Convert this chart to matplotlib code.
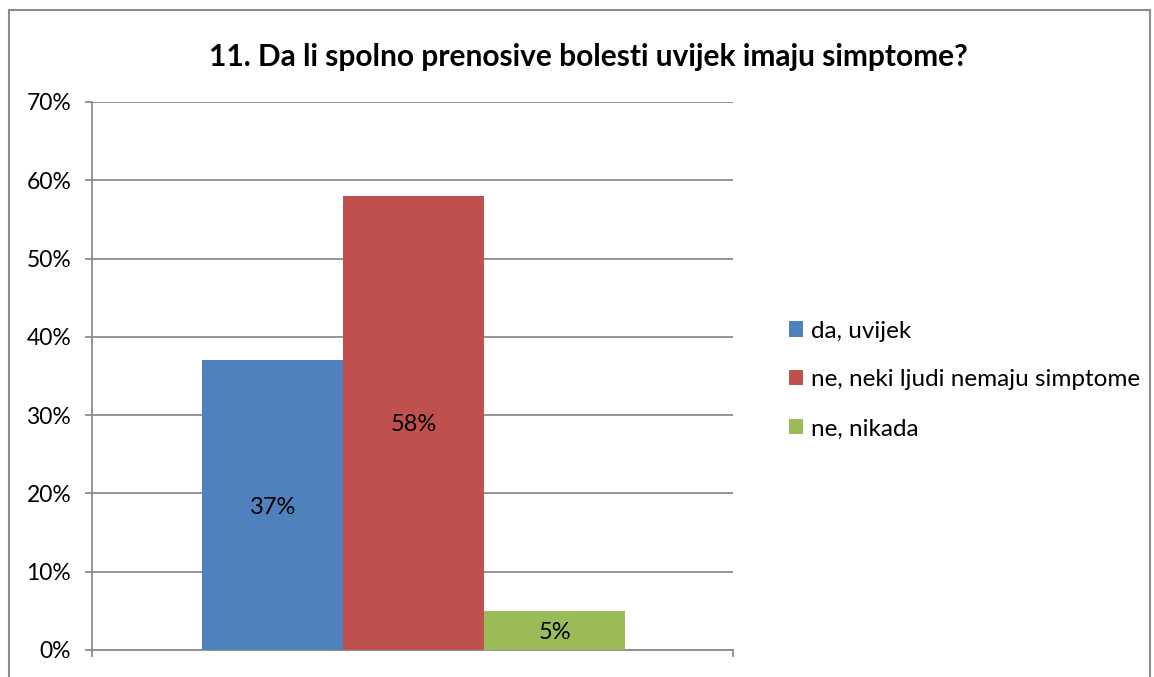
import matplotlib.pyplot as plt
from matplotlib.patches import Rectangle

# chart data
title = '11. Da li spolno prenosive bolesti uvijek imaju simptome?'
series = ['da, uvijek', 'ne, neki ljudi nemaju simptome', 'ne, nikada']
values = [37, 58, 5]
colors = ['#4f81bd', '#c0504d', '#9bbb59']
yticks = [0, 10, 20, 30, 40, 50, 60, 70]

plt.rcParams['font.family'] = ['Lato', 'DejaVu Sans']

fig = plt.figure(figsize=(11.54, 6.77), dpi=100)
fig.patches.append(Rectangle((9 / 1154, -0.05), 1141 / 1154, 1 - 10 / 677 + 0.05,
                             transform=fig.transFigure, fill=False,
                             edgecolor='#8c8c8c', linewidth=1.5))

ax = fig.add_axes([92 / 1154, 1 - 650 / 677, 641 / 1154, 548 / 677])

# three bars side by side in one group
width = 0.22
start = -0.218
for i, (v, c, name) in enumerate(zip(values, colors, series)):
    off = start + i * width
    ax.bar(off, v, width=width, color=c, label=name, zorder=3, linewidth=0)
    ax.text(off, v / 2, f'{v}%', ha='center', va='center_baseline', fontsize=17, zorder=4)

ax.set_xlim(-0.5, 0.5)
ax.set_ylim(0, 70)
ax.set_yticks(yticks)
ax.set_yticklabels([f'{t}%' for t in yticks], fontsize=16.5)
ax.set_xticks([-0.5, 0.5])
ax.set_xticklabels(['', ''])
ax.tick_params(axis='both', direction='out', length=5, width=1.3, color='#8c8c8c', pad=10)
ax.grid(axis='y', color='#8c8c8c', linewidth=1.3, zorder=0)
for s in ['top', 'right']:
    ax.spines[s].set_visible(False)
for s in ['left', 'bottom']:
    ax.spines[s].set_color('#8c8c8c')
    ax.spines[s].set_linewidth(1.3)

fig.text(588 / 1154, 1 - 57 / 677, title, ha='center', va='center',
         fontsize=21.5, fontweight='bold')

ax.legend(loc='center left', bbox_to_anchor=(777 / 1154, 1 - 380 / 677),
          bbox_transform=fig.transFigure, frameon=False, fontsize=17.5, borderpad=0,
          handlelength=0.58, handleheight=0.58, handletextpad=0.3, labelspacing=1.15)

fig.savefig('out.png', dpi=100)
